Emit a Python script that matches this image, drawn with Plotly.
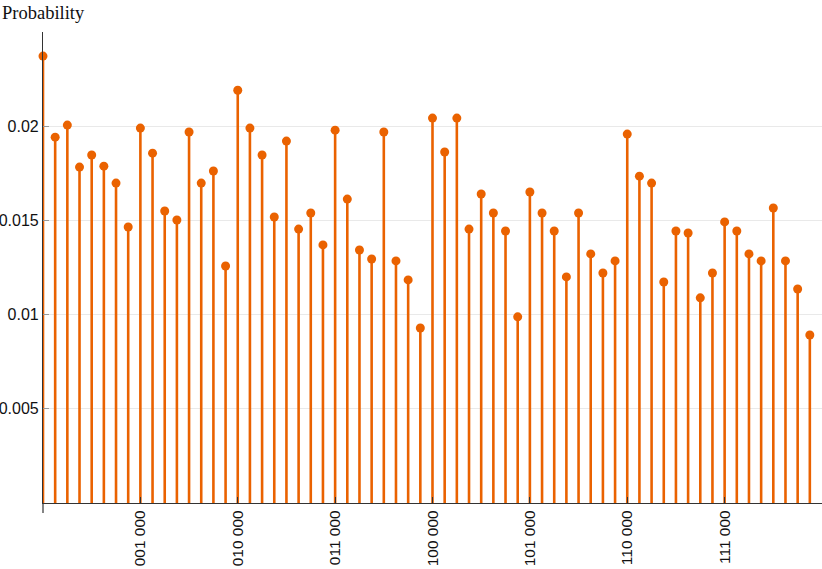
import plotly.graph_objects as go

# Outcome index (0..63) -> bit strings "abc def"
outcome_index = list(range(64))
probability = [
    0.02372, 0.01942, 0.02006, 0.01783, 0.01847, 0.01788, 0.01698, 0.01465,
    0.01990, 0.01857, 0.01550, 0.01502, 0.01969, 0.01698, 0.01762, 0.01258,
    0.02191, 0.01990, 0.01847, 0.01518, 0.01921, 0.01454, 0.01539, 0.01370,
    0.01979, 0.01613, 0.01343, 0.01295, 0.01969, 0.01285, 0.01184, 0.00929,
    0.02043, 0.01863, 0.02043, 0.01454, 0.01640, 0.01539, 0.01444, 0.00988,
    0.01651, 0.01539, 0.01444, 0.01200, 0.01539, 0.01322, 0.01221, 0.01285,
    0.01958, 0.01735, 0.01698, 0.01173, 0.01444, 0.01433, 0.01089, 0.01221,
    0.01492, 0.01444, 0.01322, 0.01285, 0.01566, 0.01285, 0.01136, 0.00892,
]
x_tick_values = [8, 16, 24, 32, 40, 48, 56]
x_tick_labels = ["001 000", "010 000", "011 000", "100 000", "101 000", "110 000", "111 000"]
y_tick_values = [0.005, 0.01, 0.015, 0.02]
y_tick_labels = ["0.005", "0.01", "0.015", "0.02"]

ORANGE = "rgb(234,98,0)"

# stems built from the data
stem_x, stem_y = [], []
for xi, yi in zip(outcome_index, probability):
    stem_x += [xi, xi, None]
    stem_y += [0, yi, None]

fig = go.Figure()
fig.add_trace(go.Scatter(x=stem_x, y=stem_y, mode="lines",
                         line=dict(color=ORANGE, width=2.6),
                         hoverinfo="skip", showlegend=False, cliponaxis=False))
fig.add_trace(go.Scatter(x=outcome_index, y=probability, mode="markers",
                         marker=dict(color=ORANGE, size=9),
                         showlegend=False, cliponaxis=False))

W, H = 822, 569
L, R, T, B = 43, 0, 32, 66
plot_h = H - T - B

fig.update_layout(
    width=W, height=H,
    margin=dict(l=L, r=R, t=T, b=B, autoexpand=False),
    paper_bgcolor="white", plot_bgcolor="white",
    font=dict(family="Liberation Sans, Arial", size=16, color="#111"),
    xaxis=dict(range=[0, 64], tickvals=x_tick_values, ticktext=x_tick_labels,
               tickangle=-90, ticks="inside", ticklen=6, tickcolor="#333",
               showline=True, linecolor="#333", linewidth=1.2,
               showgrid=False, zeroline=False, tickfont=dict(size=15.5),
               automargin=False),
    yaxis=dict(range=[0, 0.025], tickvals=y_tick_values, ticktext=y_tick_labels,
               ticks="inside", ticklen=6, tickcolor="#999",
               showline=True, linecolor="#333", linewidth=1.2,
               showgrid=True, gridcolor="#e9e9e9", gridwidth=1,
               zeroline=False, tickfont=dict(size=16), automargin=False),
    shapes=[dict(type="line", xref="paper", yref="paper",
                 x0=0, x1=0, y0=0, y1=-10 / plot_h,
                 line=dict(color="#333", width=1.2))],
    annotations=[dict(text="Probability", xref="paper", yref="paper",
                      x=0, y=1, xanchor="left", yanchor="bottom",
                      xshift=-L, yshift=7, showarrow=False,
                      font=dict(family="Liberation Serif, Times New Roman", size=18.5, color="#111"))],
)

fig.write_html("out.html", config={"displayModeBar": False},
               post_script="document.body.style.margin='0';document.body.style.padding='0';document.body.style.overflow='hidden';")
